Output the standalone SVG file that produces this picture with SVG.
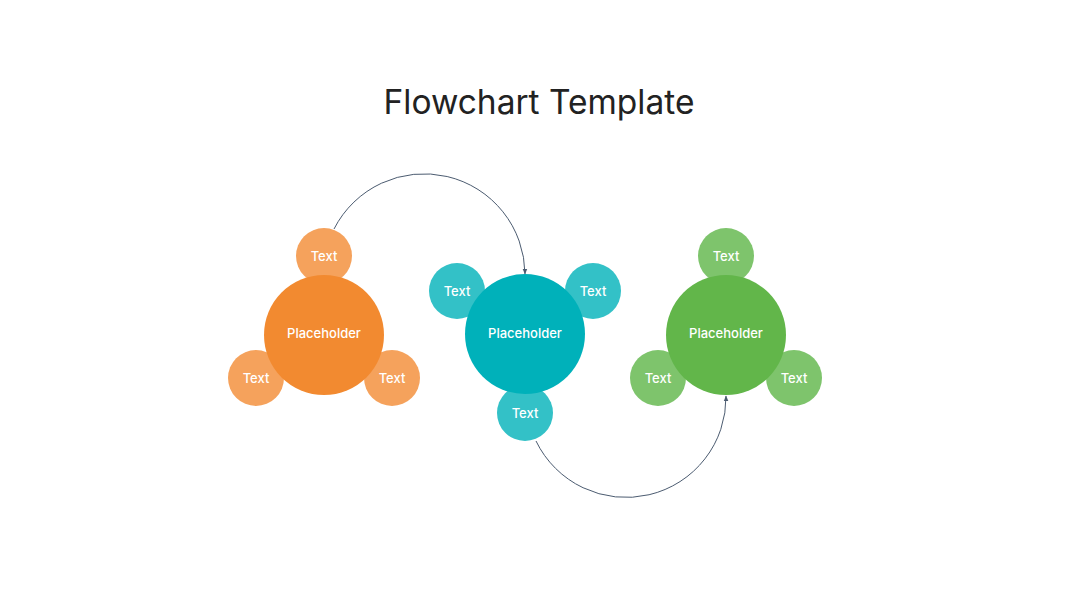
<svg xmlns="http://www.w3.org/2000/svg" width="1080" height="608" viewBox="0 0 1080 608">
<defs>
<style>
.t{font-family:Inter,"Noto Sans","Liberation Sans",sans-serif;fill:#fff;text-anchor:middle;dominant-baseline:central;font-weight:500}
.s{font-size:13px}
.m{font-size:13px}
.o1{fill:#F28A30}.o2{fill:#F5A25C}
.c1{fill:#00B1BA}.c2{fill:#33C1C7}
.g1{fill:#62B64A}.g2{fill:#7EC46C}
.ln{fill:none;stroke:#4B5B70;stroke-width:1}
</style>
<marker id="ah" viewBox="0 0 10 10" refX="9" refY="5" markerWidth="6" markerHeight="6" orient="auto-start-reverse" markerUnits="userSpaceOnUse">
<path d="M0,1 L10,5 L0,9 z" fill="#4B5B70"/>
</marker>
</defs>
<rect width="1080" height="608" fill="#fff"/>
<text x="539" y="102" font-family="Inter,'Noto Sans','Liberation Sans',sans-serif" font-size="33.5" fill="#222" text-anchor="middle" dominant-baseline="central">Flowchart Template</text>
<g id="connectors">
<path class="ln" d="M334,229 A101,101 0 0 1 525,274" marker-end="url(#ah)"/>
<path class="ln" d="M536,441 A100,100 0 0 0 726,396" marker-end="url(#ah)"/>
</g>
<g id="orange">
<circle class="o2" cx="324" cy="256" r="28"/><text class="t s" x="324" y="256">Text</text>
<circle class="o2" cx="256" cy="378" r="28"/><text class="t s" x="256" y="378">Text</text>
<circle class="o2" cx="392" cy="378" r="28"/><text class="t s" x="392" y="378">Text</text>
<circle class="o1" cx="324" cy="335" r="60"/><text class="t m" x="324" y="333">Placeholder</text>
</g>
<g id="teal">
<circle class="c2" cx="457" cy="291" r="28"/><text class="t s" x="457" y="291">Text</text>
<circle class="c2" cx="593" cy="291" r="28"/><text class="t s" x="593" y="291">Text</text>
<circle class="c2" cx="525" cy="413" r="28"/><text class="t s" x="525" y="413">Text</text>
<circle class="c1" cx="525" cy="334" r="60"/><text class="t m" x="525" y="333">Placeholder</text>
</g>
<g id="green">
<circle class="g2" cx="726" cy="256" r="28"/><text class="t s" x="726" y="256">Text</text>
<circle class="g2" cx="658" cy="378" r="28"/><text class="t s" x="658" y="378">Text</text>
<circle class="g2" cx="794" cy="378" r="28"/><text class="t s" x="794" y="378">Text</text>
<circle class="g1" cx="726" cy="335" r="60"/><text class="t m" x="726" y="333">Placeholder</text>
</g>
</svg>
